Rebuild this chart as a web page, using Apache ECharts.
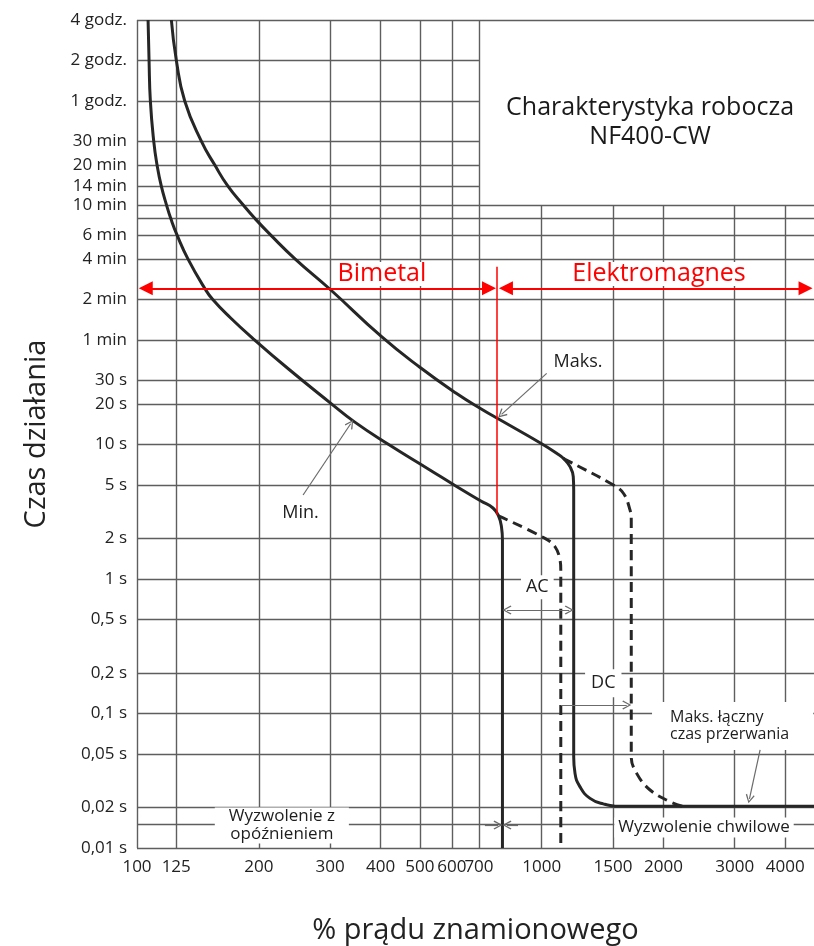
<!DOCTYPE html>
<html>
<head>
<meta charset="utf-8">
<script src="https://cdn.jsdelivr.net/npm/echarts@6.0.0/dist/echarts.min.js"></script>
<style>
html,body{margin:0;padding:0;background:#ffffff;}
#chart{width:814px;height:946px;}
</style>
</head>
<body>
<div id="chart"></div>
<script>
// ---------------- data ----------------
const xTickValues = [100, 125, 200, 300, 400, 500, 600, 700, 1000, 1500, 2000, 3000, 4000];
const xTickLabels = ['100','125','200','300','400','500','600','700','1000','1500','2000','3000','4000'];
const yTickValues = [0.01, 0.02, 0.05, 0.1, 0.2, 0.5, 1, 2, 5, 10, 20, 30, 60, 120, 240, 360, 600, 840, 1200, 1800, 3600, 7200, 14400];
const yTickLabels = ['0,01 s','0,02 s','0,05 s','0,1 s','0,2 s','0,5 s','1 s','2 s','5 s','10 s','20 s','30 s','1 min','2 min','4 min','6 min','10 min','14 min','20 min','30 min','1 godz.','2 godz.','4 godz.'];
const yExtraGridValues = [0.015, 480];

// [ % prądu znamionowego, czas w sekundach ]
const minCurve = [[106.5,14400],[107.1,7200],[107.9,3600],[110.0,1800],[112.1,1200],[114.8,840],[118.4,600],[121.2,480],[125.7,360],[133.7,240],[147,145.5],[153.9,120],[170.4,87.5],[193.2,61.8],[238.5,35.9],[301.3,20.3],[345.4,14.7],[416.9,10.1],[529.4,6.48],[610.4,4.97],[707.8,3.81],[758,3.38],[782.2,2.95],[795.7,2.44],[800,1.95],[800,0.01]];
const maxCurve = [[121.6,14400],[125.1,7200],[131.2,3600],[144.3,1800],[155.7,1200],[167.6,840],[183.5,600],[195.7,480],[214.4,360],[246.1,240],[301.3,141.3],[402.2,63.5],[500,37.6],[615,24.1],[716,18.1],[788.6,15.3],[997.5,10.2],[1089,8.63],[1131,7.92],[1175,6.86],[1197,5.78],[1200,4.6],[1200,0.0478],[1209,0.0359],[1243,0.0286],[1317,0.0234],[1420,0.0213],[1590,0.0204],[5000,0.0204]];
const minCurveDC = [[782.2,2.95],[1019,2.01],[1079,1.74],[1110,1.39],[1115,1.17],[1115,0.01]];
const maxCurveDC = [[1131,7.92],[1142,7.78],[1489,5.10],[1592,4.35],[1653,3.27],[1665,2.75],[1665,0.0478],[1717,0.0359],[1853,0.027],[2075,0.0221],[2230,0.0204]];
const regionBoundary = [775];   // granica Bimetal / Elektromagnes (% In)

// ---------------- chart ----------------
const FONT = "'Open Sans', 'Noto Sans', sans-serif";
const X_MIN = 100, X_MAX = 4710, Y_MIN = 0.01, Y_MAX = 14400;
const BOX_X = 700, BOX_T = 600;

function labelFor(values, labels, v) {
  for (let i = 0; i < values.length; i++) {
    if (Math.abs(values[i] - v) <= Math.abs(values[i]) * 1e-6) return labels[i];
  }
  return '';
}

const gridLines = [];
xTickValues.forEach(v => gridLines.push([{coord: [v, Y_MIN]}, {coord: [v, v > BOX_X ? BOX_T : Y_MAX]}]));
yTickValues.concat(yExtraGridValues).forEach(v => gridLines.push([{coord: [X_MIN, v]}, {coord: [(v > BOX_T && v < Y_MAX) ? BOX_X : X_MAX, v]}]));

const curveColor = '#262626';
const chevron = 'path://M5,0L10,9L8.8,10L5,2.6L1.2,10L0,9Z';
const boundary = regionBoundary[0];

const chart = echarts.init(document.getElementById('chart'), null, {renderer: 'canvas'});
const option = {
  animation: false,
  backgroundColor: '#ffffff',
  grid: {left: 137, right: 0, top: 20, bottom: 98, containLabel: false, outerBoundsMode: 'none'},
  xAxis: {
    type: 'log', logBase: 10, min: X_MIN, max: X_MAX,
    axisLine: {show: false}, axisTick: {show: false}, splitLine: {show: false}, minorSplitLine: {show: false},
    axisLabel: {
      customValues: xTickValues, hideOverlap: false,
      formatter: v => labelFor(xTickValues, xTickLabels, v),
      fontSize: 17, color: '#222', fontFamily: FONT, margin: 11
    },
    name: '% prądu znamionowego', nameLocation: 'middle', nameGap: 68,
    nameTextStyle: {fontSize: 29, fontFamily: FONT, color: '#222'}
  },
  yAxis: {
    type: 'log', logBase: 10, min: Y_MIN, max: Y_MAX,
    axisLine: {show: false}, axisTick: {show: false}, splitLine: {show: false}, minorSplitLine: {show: false},
    axisLabel: {
      customValues: yTickValues, hideOverlap: false,
      formatter: v => labelFor(yTickValues, yTickLabels, v),
      fontSize: 17, color: '#222', fontFamily: FONT, margin: 10
    },
    name: 'Czas działania', nameLocation: 'middle', nameRotate: 90, nameGap: 86,
    nameTextStyle: {fontSize: 29, fontFamily: FONT, color: '#222'}
  },
  series: [
    {
      name: 'siatka', type: 'line', data: [], silent: true,
      markLine: {
        silent: true, z: 1, symbol: ['none', 'none'], label: {show: false},
        emphasis: {disabled: true},
        lineStyle: {color: '#5e5e5e', width: 1.4, type: 'solid'},
        data: gridLines
      }
    },
    {name: 'Min.', type: 'line', data: minCurve, showSymbol: false, smooth: 0.5, silent: true, z: 3,
     lineStyle: {color: curveColor, width: 3}},
    {name: 'Maks.', type: 'line', data: maxCurve, showSymbol: false, smooth: 0.5, silent: true, z: 3,
     lineStyle: {color: curveColor, width: 3}},
    {name: 'Min. DC', type: 'line', data: minCurveDC, showSymbol: false, smooth: 0.4, silent: true, z: 3,
     lineStyle: {color: curveColor, width: 3, type: [10, 6]}},
    {name: 'Maks. DC', type: 'line', data: maxCurveDC, showSymbol: false, smooth: 0.4, silent: true, z: 3,
     lineStyle: {color: curveColor, width: 3, type: [10, 6]}},
    {
      name: 'opisy', type: 'line', data: [], silent: true,
      markPoint: {
        silent: true, z: 5, symbol: 'rect', symbolSize: 0,
        itemStyle: {color: 'rgba(0,0,0,0)'},
        label: {show: true, position: 'inside', color: '#1e1e1e', fontFamily: FONT, fontSize: 18},
        data: [
          {coord: [1230, 41.2], label: {formatter: 'Maks.'}},
          {coord: [253.6, 3.10], label: {formatter: 'Min.'}},
          {coord: [975.6, 0.869], label: {formatter: 'AC', backgroundColor: '#fff', padding: [3, 5]}},
          {coord: [1420, 0.168], label: {formatter: 'DC', backgroundColor: '#fff', padding: [5, 6]}},
          {coord: [1874, 0.0808], label: {formatter: 'Maks. łączny\nczas przerwania', fontSize: 16, lineHeight: 17,
             position: 'right', distance: 0, align: 'left', backgroundColor: '#fff', padding: [7, 24, 7, 18]}},
          {coord: [2519, 0.0142], label: {formatter: 'Wyzwolenie chwilowe', fontSize: 17, lineHeight: 20,
             backgroundColor: '#fff', padding: [0, 4]}},
          {coord: [228, 0.0147], label: {formatter: 'Wyzwolenie z\nopóźnieniem', fontSize: 17, lineHeight: 18,
             backgroundColor: '#fff', padding: [0, 14]}},
          {coord: [403, 185.9], label: {formatter: 'Bimetal', fontSize: 25, lineHeight: 24, color: '#ff0000',
             backgroundColor: '#fff', padding: [0, 2]}},
          {coord: [1950, 185.9], label: {formatter: 'Elektromagnes', fontSize: 25, lineHeight: 24, color: '#ff0000',
             backgroundColor: '#fff', padding: [0, 2]}},
          {coord: [1853, 2489], label: {formatter: 'Charakterystyka robocza\nNF400-CW', fontSize: 25, lineHeight: 29,
             color: '#1a1a1a'}}
        ]
      }
    },
    {
      name: 'strzalki', type: 'line', data: [], silent: true,
      markLine: {
        silent: true, z: 6, symbol: ['none', chevron], symbolSize: 9, label: {show: false},
        emphasis: {disabled: true},
        lineStyle: {color: '#6b6b6b', width: 1.2, type: 'solid'},
        data: [
          [{coord: [1029, 33.9]}, {coord: [796, 16.8]}],
          [{coord: [257.3, 4.22]}, {coord: [337.3, 14.3]}],
          [{coord: [821, 0.589], symbol: chevron}, {coord: [1170, 0.589]}],
          [{coord: [1115, 0.1158]}, {coord: [1623, 0.1158]}],
          [{coord: [3466, 0.0536]}, {coord: [3262, 0.0232]}],
          [{coord: [724, 0.0148]}, {coord: [780, 0.0148]}],
          [{coord: [874, 0.0148]}, {coord: [821, 0.0148]}]
        ]
      }
    },
    {
      name: 'zakresy', type: 'line', data: [], silent: true,
      markLine: {
        silent: true, z: 6, symbol: ['triangle', 'triangle'], symbolSize: 14, label: {show: false},
        emphasis: {disabled: true},
        lineStyle: {color: '#ff0000', width: 2, type: 'solid'},
        data: [
          [{coord: [105.1, 145.5]}, {coord: [741, 145.5]}],
          [{coord: [816, 145.5]}, {coord: [4490, 145.5]}],
          [{coord: [boundary, 210], symbol: 'none'}, {coord: [boundary, 3.0], symbol: 'none', lineStyle: {width: 1.5}}]
        ]
      }
    }
  ]
};
chart.setOption(option);
</script>
</body>
</html>
